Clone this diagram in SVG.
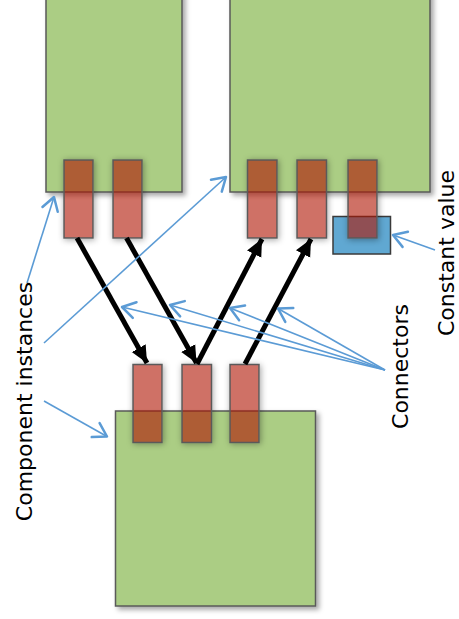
<svg xmlns="http://www.w3.org/2000/svg" width="459" height="619" viewBox="0 0 459 619">
<style>
.box{fill:#abcd84;stroke:#5a5a5a;stroke-width:1.5;filter:url(#sh)}
.port{fill:#af0f00;fill-opacity:0.6;stroke:#5a5a5a;stroke-width:1.5;filter:url(#sh2)}
.const{fill:#60a8d2;stroke:#3a3a3a;stroke-width:1.5}
.wire{stroke:#000;stroke-width:5;fill:none;marker-end:url(#ah)}
.call{stroke:#5b9bd5;stroke-width:1.6;fill:none;marker-end:url(#oh)}
.lbl{font-family:"DejaVu Sans",Verdana,sans-serif;font-size:22px;fill:#000;text-anchor:middle}
</style>
<defs>
<filter id="sh" x="-20%" y="-20%" width="140%" height="140%">
<feDropShadow dx="3" dy="3" stdDeviation="2.5" flood-color="#000" flood-opacity="0.35"/>
</filter>
<filter id="sh2" x="-50%" y="-50%" width="200%" height="200%">
<feComponentTransfer in="SourceAlpha" result="solid"><feFuncA type="discrete" tableValues="0 1"/></feComponentTransfer>
<feGaussianBlur in="solid" stdDeviation="3" result="blur"/>
<feOffset in="blur" dx="1" dy="1" result="off"/>
<feFlood flood-color="#000" flood-opacity="0.35"/>
<feComposite in2="off" operator="in" result="shadow"/>
<feComposite in="shadow" in2="solid" operator="out" result="outer"/>
<feMerge><feMergeNode in="outer"/><feMergeNode in="SourceGraphic"/></feMerge>
</filter>
<marker id="ah" markerUnits="userSpaceOnUse" viewBox="-17 -9 18 18" refX="0" refY="0" markerWidth="18" markerHeight="18" orient="auto">
<path d="M-17,-8 L0,0 L-17,8 Z" fill="#000"/>
</marker>
<marker id="oh" markerUnits="userSpaceOnUse" viewBox="-16 -10 18 20" refX="0" refY="0" markerWidth="18" markerHeight="20" orient="auto">
<path d="M-13,-8 L0,0 L-13,8" fill="none" stroke="#5b9bd5" stroke-width="2.5" stroke-linecap="round" stroke-linejoin="round"/>
</marker>
</defs>

<g id="comp-top-left">
<rect class="box" x="46" y="-10" width="136" height="202"/>
<rect class="port" x="64" y="160" width="29" height="78"/>
<rect class="port" x="113" y="160" width="29" height="78"/>
</g>

<g id="constant-value">
<rect class="const" x="333" y="216.5" width="57.5" height="37.5"/>
</g>

<g id="comp-top-right">
<rect class="box" x="230" y="-10" width="200" height="202"/>
<rect class="port" x="247.5" y="160" width="29.5" height="78"/>
<rect class="port" x="297" y="160" width="29.5" height="78"/>
<rect class="port" x="348" y="160" width="29" height="78"/>
</g>

<g id="comp-bottom">
<rect class="box" x="115.5" y="411" width="200" height="195"/>
<rect class="port" x="133" y="364.5" width="29" height="78"/>
<rect class="port" x="182" y="364.5" width="29.5" height="78"/>
<rect class="port" x="230" y="364.5" width="29" height="78"/>
</g>

<g id="connectors">
<line class="wire" x1="77" y1="238" x2="147" y2="363"/>
<line class="wire" x1="126.5" y1="238" x2="196.5" y2="363"/>
<line class="wire" x1="197" y1="364" x2="262" y2="239"/>
<line class="wire" x1="245" y1="364" x2="311" y2="239"/>
</g>

<g id="callouts">
<line class="call" x1="27" y1="283" x2="54" y2="197"/>
<line class="call" x1="44" y1="343" x2="226" y2="177"/>
<line class="call" x1="44" y1="401" x2="107" y2="436.5"/>
<line class="call" x1="385" y1="370" x2="122" y2="307"/>
<line class="call" x1="385" y1="370" x2="170" y2="305"/>
<line class="call" x1="385" y1="370" x2="230" y2="308"/>
<line class="call" x1="385" y1="370" x2="278" y2="308.5"/>
<line class="call" x1="435" y1="250" x2="393" y2="235"/>
</g>

<g id="labels">
<text class="lbl" transform="translate(31.5,401.5) rotate(-90)">Component instances</text>
<text class="lbl" transform="translate(408,366.5) rotate(-90)">Connectors</text>
<text class="lbl" transform="translate(453.5,253) rotate(-90)">Constant value</text>
</g>
</svg>
